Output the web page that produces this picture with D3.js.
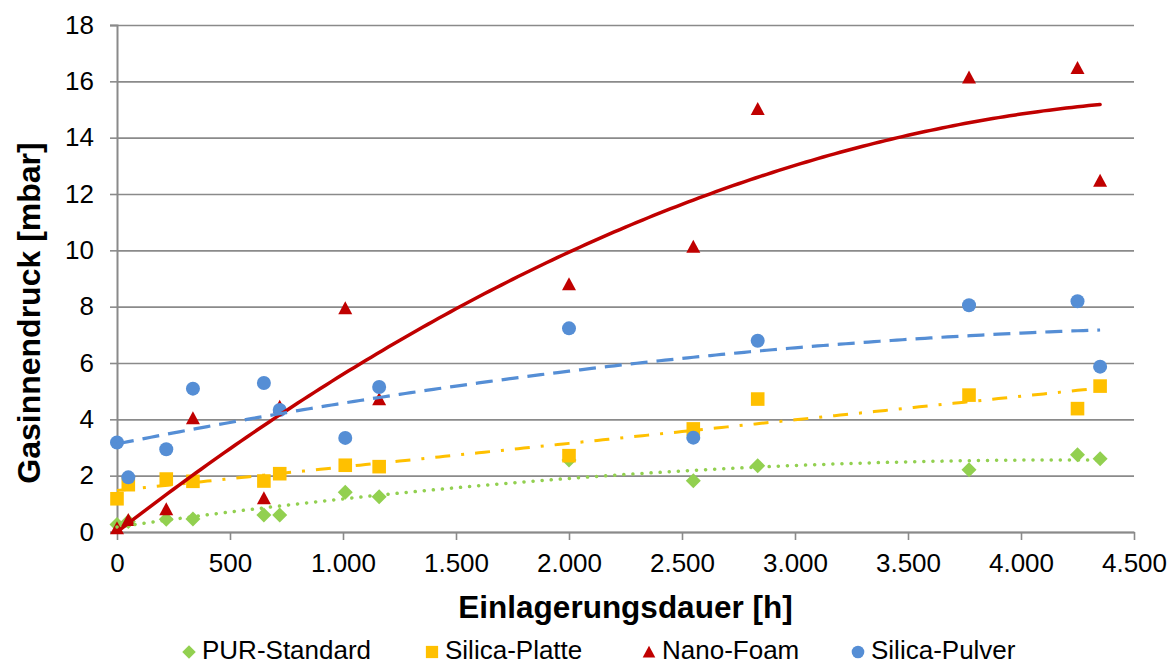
<!DOCTYPE html>
<html lang="de">
<head>
<meta charset="utf-8">
<script src="https://d3js.org/d3.v7.min.js"></script>
<style>
  body { margin: 0; background: #fff; }
  svg { font-family: "Liberation Sans", Arial, sans-serif; }
</style>
</head>
<body>
<svg width="1175" height="664"></svg>
<script>
// data (hours, mbar)
var hours = [0, 50, 218, 336, 650, 720, 1010, 1160, 2000, 2550, 2835, 3770, 4250, 4350];
var purStandard  = [0.27, 0.37, 0.45, 0.46, 0.60, 0.60, 1.41, 1.25, 2.56, 1.82, 2.35, 2.21, 2.74, 2.60];
var silicaPlatte = [1.18, 1.68, 1.88, 1.80, 1.81, 2.07, 2.37, 2.32, 2.71, 3.66, 4.72, 4.86, 4.38, 5.18];
var nanoFoam     = [0.13, 0.43, 0.81, 4.04, 1.20, 4.45, 7.94, 4.71, 8.80, 10.13, 15.02, 16.14, 16.47, 12.47];
var silicaPulver = [3.18, 1.94, 2.94, 5.09, 5.29, 4.33, 3.34, 5.15, 7.23, 3.35, 6.79, 8.05, 8.19, 5.87];
var seriesNames = ["PUR-Standard", "Silica-Platte", "Nano-Foam", "Silica-Pulver"];
var xTicks = [0, 500, 1000, 1500, 2000, 2500, 3000, 3500, 4000, 4500];
var yTicks = [0, 2, 4, 6, 8, 10, 12, 14, 16, 18];

var series = [
  {name: seriesNames[0], values: purStandard,  color: "#92D050", shape: "diamond", order: 2, dash: "0.1,9", cap: "round", width: 3.5},
  {name: seriesNames[1], values: silicaPlatte, color: "#FFC000", shape: "square",  order: 1, dash: "15,11,3,11", cap: "butt", width: 3},
  {name: seriesNames[2], values: nanoFoam,     color: "#C00000", shape: "triangle", order: 2, dash: null, cap: "round", width: 3.5},
  {name: seriesNames[3], values: silicaPulver, color: "#558ED5", shape: "circle",  order: 2, dash: "17,9", cap: "butt", width: 3.2}
];

var svg = d3.select("svg");
var margin = {left: 117, right: 41, top: 25, bottom: 132};
var width = 1175 - margin.left - margin.right,
    height = 664 - margin.top - margin.bottom;

var x = d3.scaleLinear().domain([0, 4500]).range([margin.left, margin.left + width]);
var y = d3.scaleLinear().domain([0, 18]).range([margin.top + height, margin.top]);

var fmt = function(d) { return d3.format(",")(d).replace(/,/g, "."); };

// gridlines
svg.append("g")
  .attr("transform", "translate(" + margin.left + ",0)")
  .call(d3.axisLeft(y).tickValues(yTicks).tickSize(-width).tickFormat(""))
  .call(function(g) {
    g.select(".domain").remove();
    g.selectAll("line").attr("stroke", "#8a8a8a").attr("stroke-width", 1.6);
  });

// y axis
svg.append("g")
  .attr("transform", "translate(" + margin.left + ",0)")
  .call(d3.axisLeft(y).tickValues(yTicks).tickSize(7).tickPadding(16))
  .call(function(g) {
    g.select(".domain").attr("stroke", "#8a8a8a").attr("stroke-width", 2);
    g.selectAll("line").attr("stroke", "#8a8a8a").attr("stroke-width", 1.6);
    g.selectAll("text").attr("font-size", 26).attr("fill", "#000").attr("font-family", "Liberation Sans, Arial");
  });

// x axis
svg.append("g")
  .attr("transform", "translate(0," + (margin.top + height) + ")")
  .call(d3.axisBottom(x).tickValues(xTicks).tickSize(8).tickSizeOuter(0).tickPadding(14).tickFormat(fmt))
  .call(function(g) {
    g.select(".domain").attr("stroke", "#8a8a8a").attr("stroke-width", 2);
    g.selectAll("line").attr("stroke", "#8a8a8a").attr("stroke-width", 1.6);
    g.selectAll("text").attr("font-size", 26).attr("fill", "#000").attr("font-family", "Liberation Sans, Arial");
  });

// axis titles
svg.append("text")
  .attr("x", margin.left + width / 2)
  .attr("y", 618)
  .attr("text-anchor", "middle")
  .attr("font-size", 31.5).attr("font-weight", "bold")
  .text("Einlagerungsdauer [h]");

svg.append("text")
  .attr("transform", "translate(40,313) rotate(-90)")
  .attr("text-anchor", "middle")
  .attr("font-size", 32).attr("font-weight", "bold")
  .text("Gasinnendruck [mbar]");

// marker symbols
function symbolPath(shape, s) {
  var p = d3.path();
  if (shape === "diamond") {
    var r = 7.5 * s;
    p.moveTo(0, -r); p.lineTo(r, 0); p.lineTo(0, r); p.lineTo(-r, 0); p.closePath();
  } else if (shape === "square") {
    var h = 6.8 * s;
    p.rect(-h, -h, 2 * h, 2 * h);
  } else if (shape === "triangle") {
    var w = 7 * s, t = 7 * s, b = 6 * s;
    p.moveTo(0, -t); p.lineTo(w, b); p.lineTo(-w, b); p.closePath();
  } else {
    p.arc(0, 0, 7 * s, 0, 2 * Math.PI);
  }
  return p.toString();
}

var plot = svg.append("g");

series.forEach(function(s) {
  plot.append("g").selectAll("path")
    .data(hours.map(function(h, i) { return {h: h, v: s.values[i]}; }))
    .enter().append("path")
    .attr("d", symbolPath(s.shape, 1))
    .attr("transform", function(d) { return "translate(" + x(d.h) + "," + y(d.v) + ")"; })
    .attr("fill", s.color);
});

// least squares polynomial fit (Excel style trendlines)
function polyfit(xs, ys, order) {
  var n = order + 1, A = [], b = [];
  for (var r = 0; r < n; r++) {
    A.push([]);
    for (var c = 0; c < n; c++) A[r].push(d3.sum(xs, function(v) { return Math.pow(v, r + c); }));
    b.push(d3.sum(xs, function(v, i) { return ys[i] * Math.pow(v, r); }));
  }
  for (var k = 0; k < n; k++) {
    for (var i = k + 1; i < n; i++) {
      var f = A[i][k] / A[k][k];
      for (var j = k; j < n; j++) A[i][j] -= f * A[k][j];
      b[i] -= f * b[k];
    }
  }
  var coef = new Array(n).fill(0);
  for (var k2 = n - 1; k2 >= 0; k2--) {
    var s = b[k2];
    for (var j2 = k2 + 1; j2 < n; j2++) s -= A[k2][j2] * coef[j2];
    coef[k2] = s / A[k2][k2];
  }
  return function(v) { return coef.reduce(function(acc, cf, p) { return acc + cf * Math.pow(v, p); }, 0); };
}

var line = d3.line().x(function(d) { return x(d[0]); }).y(function(d) { return y(d[1]); });
var xMax = d3.max(hours);

series.forEach(function(s) {
  var fn = polyfit(hours, s.values, s.order);
  var pts = d3.range(0, xMax + 1, 25).map(function(h) { return [h, fn(h)]; });
  plot.append("path")
    .datum(pts)
    .attr("d", line)
    .attr("fill", "none")
    .attr("stroke", s.color)
    .attr("stroke-width", s.width)
    .attr("stroke-linecap", s.cap)
    .attr("stroke-dasharray", s.dash);
});

// legend
var legendX = [189, 432, 649, 858];
var legend = svg.append("g").selectAll("g")
  .data(series)
  .enter().append("g")
  .attr("transform", function(d, i) { return "translate(" + legendX[i] + ",652)"; });

legend.append("path")
  .attr("d", function(d) { return symbolPath(d.shape, 0.9); })
  .attr("fill", function(d) { return d.color; });

legend.append("text")
  .attr("x", 13)
  .attr("y", 7)
  .attr("font-size", 26)
  .text(function(d) { return d.name; });
</script>
</body>
</html>
